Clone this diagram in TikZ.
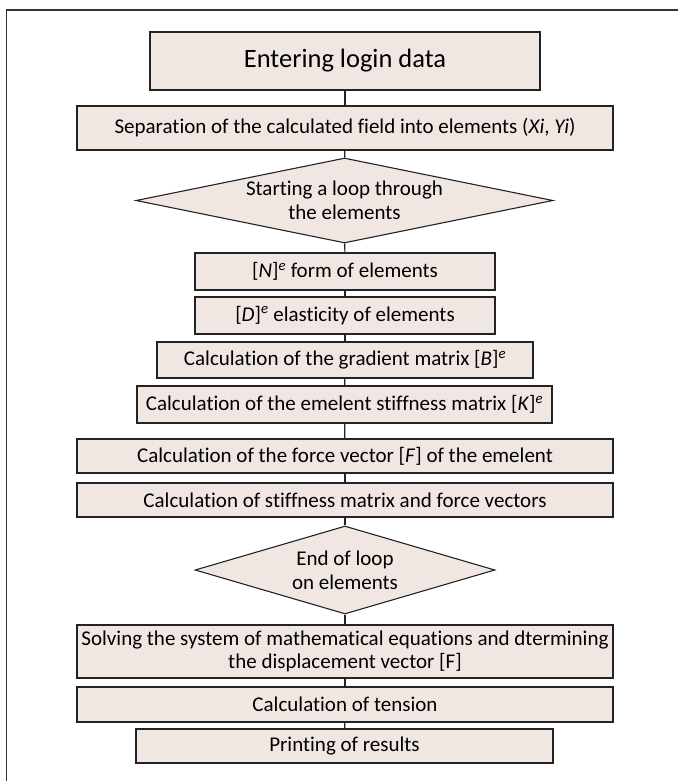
\documentclass[tikz,border=0pt]{standalone}
\usepackage{fontspec}
\setmainfont{Carlito}[RawFeature={-liga;-clig}]
\usetikzlibrary{shapes.geometric,shadows}
\definecolor{boxfill}{RGB}{240,231,226}
\definecolor{edge}{RGB}{35,35,35}
\begin{document}
\begin{tikzpicture}[x=1pt,y=-1pt,
  shad/.style={drop shadow={shadow xshift=0.9pt, shadow yshift=-0.9pt, fill=black!55, opacity=1}},
  box/.style={draw=edge, fill=boxfill, line width=1.1pt, inner sep=0pt, shad,
    font=\fontsize{21}{24}\selectfont, align=center},
  dia/.style={diamond, draw=edge, fill=boxfill, line width=1.1pt, inner sep=0pt},
  dtext/.style={font=\fontsize{21}{24}\selectfont, align=center},
  link/.style={draw=edge, line width=1.2pt}]
\useasboundingbox (0,0) rectangle (678,781);
% frame
\coordinate (fa) at (6.5,781);
\coordinate (fb) at (6.5,10);
\coordinate (fc) at (678,10);
\draw[line width=1.5pt, black!80] (fa) -- (fb) -- (fc);

\node[box, minimum width=390pt, minimum height=58pt, font=\fontsize{26.5}{30}\selectfont] (b1) at (345,61) {Entering login data};
\node[box, minimum width=536pt, minimum height=44pt] (b2) at (345,128) {Separation of the calculated field into elements (\textit{Xi}, \textit{Yi})};
\node[dia, minimum width=417pt, minimum height=85pt] (d1) at (344.5,200.5) {};
\node[dtext] (t1) at (d1.center) {Starting a loop through\\the elements};
\node[box, minimum width=300pt, minimum height=37pt] (b3) at (345,271.5) {[\textit{N}]\textsuperscript{\textit{e}} form of elements};
\node[box, minimum width=300pt, minimum height=37pt] (b4) at (345,315.5) {[\textit{D}]\textsuperscript{\textit{e}} elasticity of elements};
\node[box, minimum width=376pt, minimum height=36pt] (b5) at (345,360) {Calculation of the gradient matrix [\textit{B}]\textsuperscript{\textit{e}}};
\node[box, minimum width=415pt, minimum height=37pt] (b6) at (344.5,404.5) {Calculation of the emelent stiffness matrix [\textit{K}]\textsuperscript{\textit{e}}};
\node[box, minimum width=536pt, minimum height=34pt] (b7) at (345,456) {Calculation of the force vector [\textit{F}] of the emelent};
\node[box, minimum width=536pt, minimum height=34pt] (b8) at (345,500) {Calculation of stiffness matrix and force vectors};
\node[dia, minimum width=300pt, minimum height=88pt] (d2) at (345,570) {};
\node[dtext] (t2) at (d2.center) {End of loop\\on elements};
\node[box, minimum width=536pt, minimum height=53pt, font=\fontsize{21}{23}\selectfont] (b9) at (345,651.5) {Solving the system of mathematical equations and dtermining\\the displacement vector [F]};
\node[box, minimum width=536pt, minimum height=35pt] (b10) at (345,704.5) {Calculation of tension};
\node[box, minimum width=417pt, minimum height=34pt] (b11) at (344.5,746) {Printing of results};

\begin{scope}[on background layer/.try]
\end{scope}
\draw[link] (b1) -- (b2);
\draw[link] (b2) -- (d1);
\draw[link] (d1) -- (b3);
\draw[link] (b3) -- (b4);
\draw[link] (b4) -- (b5);
\draw[link] (b5) -- (b6);
\draw[link] (b6) -- (b7);
\draw[link] (b7) -- (b8);
\draw[link] (b8) -- (d2);
\draw[link] (d2) -- (b9);
\draw[link] (b9) -- (b10);
\draw[link] (b10) -- (b11);
\end{tikzpicture}
\end{document}
